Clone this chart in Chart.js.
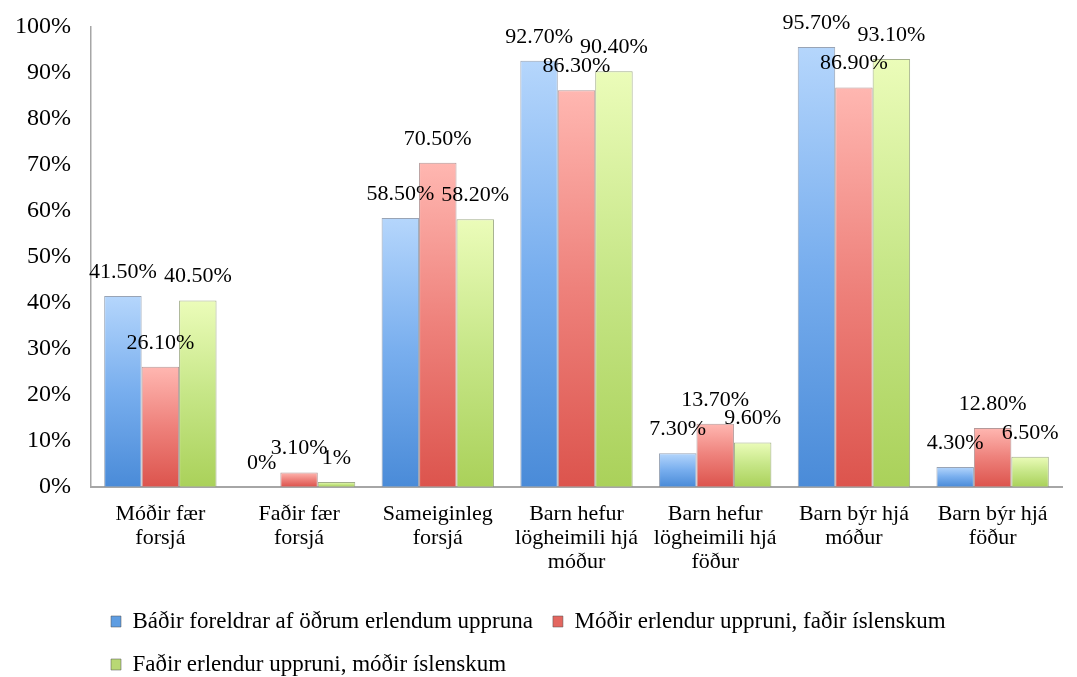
<!DOCTYPE html>
<html>
<head>
<meta charset="utf-8">
<script src="https://cdn.jsdelivr.net/npm/chart.js@4/dist/chart.umd.min.js"></script>
<style>
  html, body { margin: 0; padding: 0; background: #fff; }
  #wrap { width: 1077px; height: 677px; }
</style>
</head>
<body>
<div id="wrap"><canvas id="forsja-chart"></canvas></div>
<script>
// categories (multi-line like in the original)
const categories = [
  ['Móðir fær', 'forsjá'],
  ['Faðir fær', 'forsjá'],
  ['Sameiginleg', 'forsjá'],
  ['Barn hefur', 'lögheimili hjá', 'móður'],
  ['Barn hefur', 'lögheimili hjá', 'föður'],
  ['Barn býr hjá', 'móður'],
  ['Barn býr hjá', 'föður']
];

const seriesNames = [
  'Báðir foreldrar af öðrum erlendum uppruna',
  'Móðir erlendur uppruni, faðir íslenskum',
  'Faðir erlendur uppruni, móðir íslenskum'
];

const badirErlendir = [41.5, 0, 58.5, 92.7, 7.3, 95.7, 4.3];
const modirErlend = [26.1, 3.1, 70.5, 86.3, 13.7, 86.9, 12.8];
const fadirErlendur = [40.5, 1, 58.2, 90.4, 9.6, 93.1, 6.5];

const yTicks = [0, 10, 20, 30, 40, 50, 60, 70, 80, 90, 100];

const serif = '"Liberation Serif", "Times New Roman", serif';

// light top -> darker bottom, per bar
function barFill(topColor, midColor, bottomColor) {
  return function (context) {
    var chart = context.chart;
    if (!chart.chartArea || context.type !== 'data') return bottomColor;
    var y = chart.scales.y;
    var top = y.getPixelForValue(context.raw);
    var base = y.getPixelForValue(0);
    if (base - top < 1) return bottomColor;
    var g = chart.ctx.createLinearGradient(0, top, 0, base);
    g.addColorStop(0, topColor);
    g.addColorStop(0.5, midColor);
    g.addColorStop(1, bottomColor);
    return g;
  };
}

const legendColors = ['#5e9de2', '#e3665f', '#b8d874'];

function fmtPct(v) {
  if (Number.isInteger(v)) return v + '%';
  return v.toFixed(2) + '%';
}

// value labels above each bar
const barLabels = {
  id: 'barLabels',
  afterDatasetsDraw(chart) {
    var ctx = chart.ctx;
    ctx.save();
    ctx.font = '22px ' + serif;
    ctx.fillStyle = '#000';
    ctx.textAlign = 'center';
    ctx.textBaseline = 'middle';
    chart.data.datasets.forEach(function (ds, i) {
      var meta = chart.getDatasetMeta(i);
      meta.data.forEach(function (bar, j) {
        ctx.fillText(fmtPct(ds.data[j]), bar.x, bar.y - 24);
      });
    });
    ctx.restore();
  }
};

Chart.defaults.color = '#000';
Chart.defaults.font.family = serif;

var ctx = document.getElementById('forsja-chart');
var forsjaChart = new Chart(ctx, {
  type: 'bar',
  data: {
    labels: categories,
    datasets: [
      {
        label: seriesNames[0],
        data: badirErlendir,
        backgroundColor: barFill('#b5d6fc', '#78aeee', '#4a8bd8'),
        borderColor: 'rgba(70,90,120,0.55)',
        borderWidth: 1
      },
      {
        label: seriesNames[1],
        data: modirErlend,
        backgroundColor: barFill('#ffb7b1', '#ee817b', '#dc544d'),
        borderColor: 'rgba(120,70,70,0.55)',
        borderWidth: 1
      },
      {
        label: seriesNames[2],
        data: fadirErlendur,
        backgroundColor: barFill('#ebfcb9', '#c6e687', '#aad15a'),
        borderColor: 'rgba(100,120,60,0.6)',
        borderWidth: 1
      }
    ]
  },
  options: {
    responsive: true,
    maintainAspectRatio: false,
    animation: false,
    layout: {
      padding: { top: 21, left: 15, right: 15, bottom: -9 }
    },
    datasets: {
      bar: {
        barPercentage: 1,
        categoryPercentage: 0.81
      }
    },
    scales: {
      x: {
        grid: { display: false, drawTicks: false },
        border: { display: true, color: '#a6a6a6', width: 2 },
        ticks: {
          font: { size: 22, lineHeight: 1.08 },
          padding: 16,
          maxRotation: 0,
          autoSkip: false
        }
      },
      y: {
        min: 0,
        max: 100,
        afterBuildTicks: function (axis) {
          axis.ticks = yTicks.map(function (v) { return { value: v }; });
        },
        afterFit: function (axis) {
          axis.width = 76;
        },
        grid: { display: false, drawTicks: false },
        border: { display: true, color: '#a6a6a6', width: 1.5 },
        ticks: {
          font: { size: 24, lineHeight: 0.6 },
          padding: 20,
          callback: function (v) { return v + '%'; }
        }
      }
    },
    plugins: {
      tooltip: { enabled: false },
      legend: {
        position: 'bottom',
        align: 'start',
        fullSize: false,
        labels: {
          font: { size: 23 },
          boxWidth: 10,
          boxHeight: 11,
          padding: 20,
          generateLabels: function (chart) {
            var items = Chart.defaults.plugins.legend.labels.generateLabels(chart);
            items.forEach(function (it, i) {
              it.fillStyle = legendColors[i];
              it.strokeStyle = 'rgba(80,80,80,0.5)';
              it.lineWidth = 1;
            });
            return items;
          }
        }
      }
    }
  },
  plugins: [barLabels]
});
</script>
</body>
</html>
